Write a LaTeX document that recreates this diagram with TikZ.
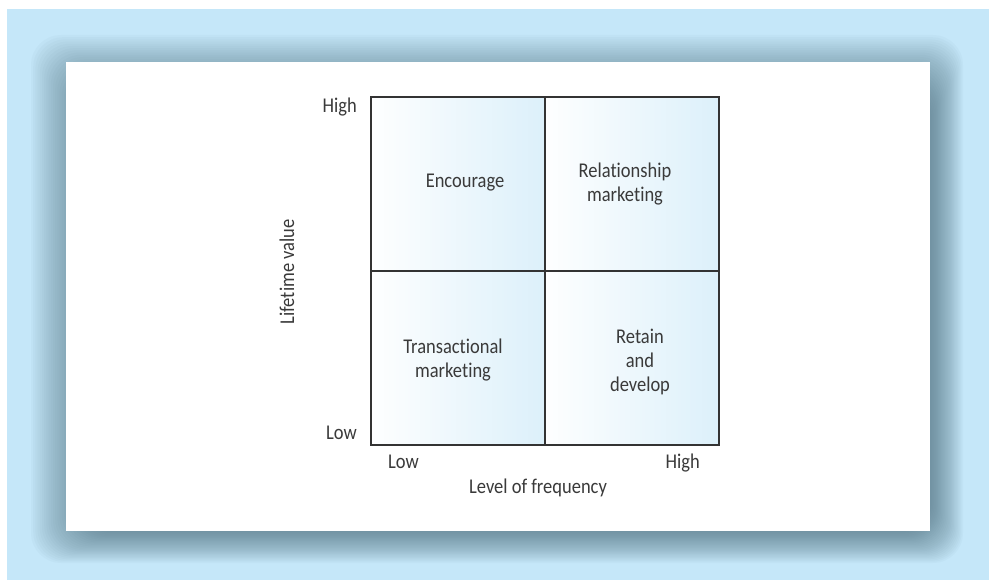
\documentclass[tikz,border=0pt]{standalone}
\usepackage{fontspec}
\setmainfont[FakeStretch=0.88, Ligatures={NoCommon,NoContextual}]{Carlito}
\usepackage{xcolor}
\usetikzlibrary{positioning}

\definecolor{panelblue}{HTML}{C5E7F9}
\definecolor{shadowgrey}{HTML}{3E5E6E}
\definecolor{quadblue}{HTML}{DCF0FA}
\definecolor{gridline}{HTML}{333333}
\definecolor{labelgrey}{HTML}{3A3A3A}

\begin{document}
\begin{tikzpicture}[x=1pt, y=-1pt, font=\fontsize{21}{24}\selectfont, text=labelgrey,
        quad/.style={draw=gridline, line width=1.2pt, left color=white!97!quadblue,
                     right color=quadblue, minimum width=174pt, minimum height=174pt,
                     outer sep=0pt, inner sep=0pt},
        cell/.style={align=center, inner sep=0pt},
        axis/.style={inner sep=0pt}]
      \useasboundingbox (0,0) rectangle (989,580);
      % panel, soft shadow and card
      \fill[panelblue] (7,9) rectangle (989,580);
      \foreach \i in {0,...,24}
        \fill[shadowgrey, opacity=0.032, rounded corners=30pt]
          (31+2.2*\i, 35+2.2*\i) rectangle (963-1.3*\i, 563-1.3*\i);
      \fill[white] (66,62) rectangle (930,531);
      % the four quadrants
      \node[quad] (enc) at (458,184) {};
      \node[quad, right=0pt of enc] (rel) {};
      \node[quad, below=0pt of enc] (trans) {};
      \node[quad, below=0pt of rel] (ret) {};
      \node[cell] (enctxt) at ([xshift=7pt, yshift=1pt]enc.center) {Encourage};
      \node[cell] (reltxt) at ([xshift=-7pt]rel.center) {Relationship\\marketing};
      \node[cell] (transtxt) at ([xshift=-5pt, yshift=-2pt]trans.center) {Transactional\\marketing};
      \node[cell] (rettxt) at ([xshift=8pt, yshift=-4pt]ret.center) {Retain\\and\\develop};
      % axis labels
      \node[axis, anchor=base east] (vhigh) at (357,113) {High};
      \node[axis, anchor=base east] (vlow) at (357,439) {Low};
      \node[axis, anchor=base west] (hlow) at (388,468) {Low};
      \node[axis, anchor=base east] (hhigh) at (700,468) {High};
      \node[axis, anchor=base] (xname) at (538,493) {Level of frequency};
      \node[axis, rotate=90, anchor=base] (yname) at (294,272) {Lifetime value};
    \end{tikzpicture}
\end{document}
